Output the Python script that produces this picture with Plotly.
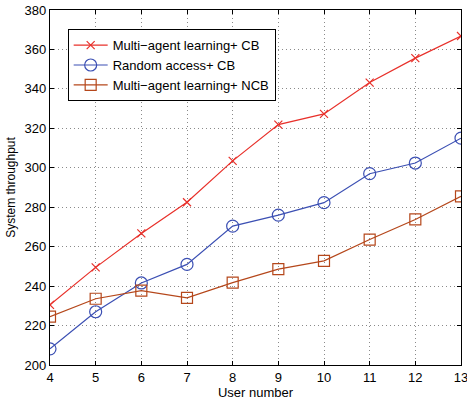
import plotly.graph_objects as go

users = [4, 5, 6, 7, 8, 9, 10, 11, 12, 13]
ma_cb = [230.5, 249.5, 266.7, 282.5, 303.5, 321.9, 327.3, 343.2, 355.6, 366.8]
ra_cb = [208.2, 227.0, 241.6, 251.0, 270.4, 276.0, 282.3, 297.0, 302.4, 315.0]
ma_ncb = [224.5, 233.6, 237.7, 234.0, 241.8, 248.6, 252.8, 263.6, 273.8, 285.5]
names = ["Multi\u2212agent learning+ CB", "Random access+ CB", "Multi\u2212agent learning+ NCB"]
x_ticks = list(range(4, 14))
y_ticks = list(range(200, 381, 20))

red = "#e8302a"
blue = "#3b4fb3"
brown = "#b5471b"
FONT = "Liberation Sans, Arial"

fig = go.Figure()
fig.add_trace(go.Scatter(x=users, y=ma_cb, name=names[0], mode="lines+markers",
                         line=dict(color=red, width=1.2),
                         marker=dict(symbol="x-thin", size=8, line=dict(color=red, width=1.2))))
fig.add_trace(go.Scatter(x=users, y=ra_cb, name=names[1], mode="lines+markers",
                         line=dict(color=blue, width=1.2),
                         marker=dict(symbol="circle-open", size=12, color=blue, line=dict(color=blue, width=1.2))))
fig.add_trace(go.Scatter(x=users, y=ma_ncb, name=names[2], mode="lines+markers",
                         line=dict(color=brown, width=1.2),
                         marker=dict(symbol="square-open", size=11, color=brown, line=dict(color=brown, width=1.2))))

axis_common = dict(showline=True, linecolor="black", linewidth=1.4, mirror="ticks",
                   ticks="inside", ticklen=4, tickcolor="black", automargin=False,
                   ticklabeloverflow="allow",
                   showgrid=True, gridcolor="#8a8a8a", griddash="1px,3px", gridwidth=1,
                   zeroline=False, tickfont=dict(family=FONT, size=13, color="black"))

fig.update_xaxes(range=[4, 13], tickvals=x_ticks, ticktext=[str(v) for v in x_ticks],
                 title=dict(text="User number", font=dict(family=FONT, size=13, color="black"), standoff=4),
                 **axis_common)
fig.update_yaxes(range=[200, 380], tickvals=y_ticks, ticktext=[str(v) for v in y_ticks],
                 title=dict(text="System throughput", font=dict(family=FONT, size=12, color="black"), standoff=6),
                 **axis_common)

fig.update_layout(
    width=467, height=403,
    margin=dict(l=50, r=6, t=10, b=38),
    plot_bgcolor="white", paper_bgcolor="white",
    legend=dict(x=0.043, y=0.946, xanchor="left", yanchor="top",
                bgcolor="white", bordercolor="black", borderwidth=1,
                font=dict(family=FONT, size=13, color="black"),
                tracegroupgap=0, itemwidth=34),
    showlegend=True,
)

fig.write_html("out.html", config={"displayModeBar": False},
               post_script="document.body.style.margin='0';document.body.style.overflow='hidden';")
